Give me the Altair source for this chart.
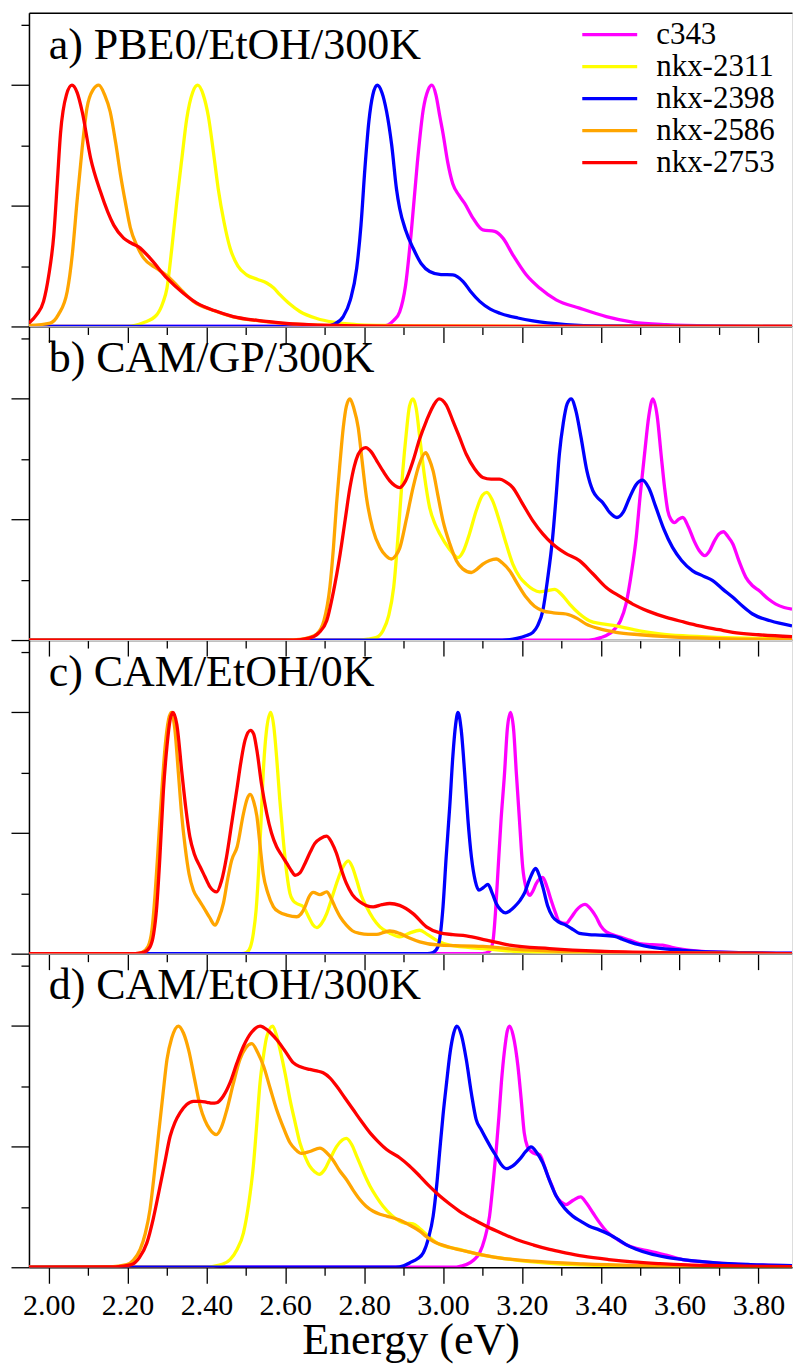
import altair as alt
import pandas as pd

FONT = "'Liberation Serif', 'DejaVu Serif', serif"
SERIES = ["c343", "nkx-2311", "nkx-2398", "nkx-2586", "nkx-2753"]
COLORS = ["#ff00ff", "#ffff00", "#0000ff", "#ffa500", "#ff0000"]
PANEL_TITLES = ["a) PBE0/EtOH/300K", "b) CAM/GP/300K", "c) CAM/EtOH/0K", "d) CAM/EtOH/300K"]
X_TICKS = [2.0, 2.1, 2.2, 2.3, 2.4, 2.5, 2.6, 2.7, 2.8, 2.9, 3.0, 3.1, 3.2, 3.3, 3.4, 3.5, 3.6, 3.7, 3.8]
Y_TICKS = [0.0, 0.25, 0.5, 0.75, 1.0, 1.25]
X_DOMAIN = [1.95, 3.885]
Y_DOMAIN = [0.0, 1.3]
LABEL_POS = [2.0, 1.11]

# ---------- panel a) PBE0/EtOH/300K : [energy eV, normalised intensity] ----------
A_C343 = [[1.95,0],[2.84,0],[2.86,0.006],[2.875,0.025],[2.89,0.06],[2.905,0.17],[2.92,0.40],[2.935,0.68],[2.95,0.90],[2.962,0.98],[2.972,1.0],[2.982,0.96],[2.992,0.87],[3.0,0.80],[3.012,0.68],[3.025,0.59],[3.04,0.545],[3.055,0.51],[3.076,0.449],[3.101,0.40],[3.131,0.394],[3.152,0.366],[3.177,0.297],[3.211,0.214],[3.245,0.159],[3.287,0.11],[3.346,0.076],[3.414,0.041],[3.481,0.018],[3.566,0.007],[3.68,0.002],[3.885,0]]
A_2311 = [[1.95,0],[2.20,0],[2.24,0.015],[2.274,0.048],[2.29,0.10],[2.30,0.159],[2.312,0.32],[2.325,0.52],[2.338,0.70],[2.35,0.86],[2.365,0.97],[2.378,1.0],[2.392,0.96],[2.405,0.87],[2.418,0.72],[2.43,0.57],[2.445,0.43],[2.46,0.325],[2.48,0.25],[2.502,0.214],[2.53,0.195],[2.553,0.18],[2.57,0.16],[2.587,0.131],[2.61,0.095],[2.637,0.062],[2.68,0.033],[2.721,0.018],[2.78,0.008],[2.847,0.004],[2.95,0.001],[3.885,0]]
A_2398 = [[1.95,0],[2.70,0],[2.725,0.01],[2.747,0.041],[2.765,0.11],[2.781,0.24],[2.792,0.42],[2.802,0.656],[2.812,0.85],[2.822,0.96],[2.833,1.0],[2.845,0.97],[2.857,0.89],[2.870,0.75],[2.882,0.57],[2.890,0.49],[2.905,0.40],[2.924,0.325],[2.945,0.26],[2.966,0.228],[2.995,0.215],[3.025,0.214],[3.051,0.186],[3.07,0.145],[3.093,0.104],[3.12,0.072],[3.144,0.055],[3.19,0.035],[3.228,0.023],[3.312,0.008],[3.40,0.002],[3.885,0]]
A_2586 = [[1.95,0.004],[2.004,0.014],[2.025,0.05],[2.047,0.145],[2.06,0.30],[2.072,0.52],[2.085,0.74],[2.097,0.905],[2.112,0.98],[2.127,1.0],[2.142,0.96],[2.156,0.89],[2.17,0.76],[2.182,0.63],[2.195,0.51],[2.207,0.41],[2.225,0.33],[2.241,0.283],[2.274,0.24],[2.30,0.21],[2.316,0.186],[2.34,0.145],[2.367,0.104],[2.42,0.065],[2.468,0.04],[2.53,0.024],[2.594,0.013],[2.72,0.004],[2.85,0.001],[3.885,0]]
A_2753 = [[1.95,0.014],[1.97,0.05],[1.987,0.104],[2.0,0.21],[2.013,0.38],[2.022,0.60],[2.030,0.80],[2.045,0.96],[2.059,1.0],[2.072,0.97],[2.085,0.89],[2.106,0.70],[2.131,0.56],[2.165,0.42],[2.19,0.366],[2.21,0.345],[2.228,0.33],[2.257,0.283],[2.30,0.20],[2.34,0.14],[2.376,0.097],[2.42,0.066],[2.468,0.041],[2.53,0.025],[2.594,0.014],[2.72,0.004],[2.85,0.001],[3.885,0]]

# ---------- panel b) CAM/GP/300K ----------
B_C343 = [[1.95,0],[3.37,0],[3.40,0.01],[3.431,0.038],[3.45,0.08],[3.464,0.149],[3.478,0.28],[3.49,0.425],[3.50,0.60],[3.511,0.77],[3.522,0.93],[3.532,1.0],[3.543,0.93],[3.553,0.77],[3.562,0.63],[3.570,0.536],[3.578,0.50],[3.587,0.487],[3.597,0.50],[3.608,0.508],[3.622,0.47],[3.637,0.41],[3.65,0.37],[3.664,0.35],[3.676,0.37],[3.688,0.41],[3.70,0.44],[3.711,0.449],[3.722,0.43],[3.735,0.398],[3.75,0.33],[3.768,0.26],[3.785,0.225],[3.802,0.204],[3.825,0.17],[3.844,0.149],[3.865,0.135],[3.885,0.128]]
B_2311 = [[1.95,0],[2.78,0],[2.81,0.004],[2.83,0.01],[2.848,0.04],[2.862,0.10],[2.875,0.22],[2.89,0.52],[2.898,0.70],[2.907,0.86],[2.915,0.97],[2.924,1.0],[2.932,0.96],[2.941,0.84],[2.953,0.68],[2.966,0.55],[2.98,0.48],[2.992,0.44],[3.015,0.38],[3.038,0.342],[3.052,0.37],[3.067,0.44],[3.085,0.54],[3.10,0.60],[3.111,0.612],[3.125,0.58],[3.143,0.494],[3.16,0.40],[3.177,0.315],[3.195,0.26],[3.211,0.232],[3.228,0.21],[3.245,0.20],[3.265,0.205],[3.283,0.21],[3.30,0.19],[3.321,0.149],[3.345,0.11],[3.371,0.08],[3.40,0.068],[3.439,0.059],[3.498,0.038],[3.55,0.026],[3.608,0.018],[3.70,0.011],[3.80,0.007],[3.885,0.005]]
B_2398 = [[1.95,0],[3.15,0],[3.19,0.008],[3.21,0.018],[3.228,0.032],[3.24,0.06],[3.253,0.121],[3.265,0.25],[3.278,0.425],[3.287,0.60],[3.295,0.77],[3.305,0.90],[3.315,0.98],[3.325,1.0],[3.337,0.95],[3.35,0.84],[3.365,0.70],[3.38,0.619],[3.392,0.59],[3.405,0.57],[3.422,0.53],[3.441,0.508],[3.457,0.53],[3.473,0.59],[3.49,0.645],[3.506,0.663],[3.522,0.63],[3.54,0.55],[3.56,0.46],[3.582,0.384],[3.605,0.33],[3.633,0.287],[3.66,0.265],[3.684,0.246],[3.71,0.21],[3.735,0.177],[3.76,0.14],[3.785,0.108],[3.83,0.08],[3.885,0.059]]
B_2586 = [[1.95,0],[2.60,0],[2.637,0.003],[2.66,0.01],[2.68,0.025],[2.698,0.08],[2.713,0.218],[2.722,0.38],[2.73,0.564],[2.738,0.72],[2.747,0.88],[2.755,0.97],[2.764,1.0],[2.774,0.96],[2.785,0.88],[2.795,0.74],[2.806,0.59],[2.822,0.46],[2.84,0.384],[2.855,0.35],[2.869,0.336],[2.88,0.35],[2.89,0.38],[2.907,0.50],[2.924,0.632],[2.94,0.73],[2.956,0.777],[2.965,0.75],[2.975,0.70],[2.987,0.60],[3.0,0.494],[3.017,0.40],[3.034,0.329],[3.05,0.295],[3.072,0.28],[3.087,0.295],[3.101,0.315],[3.118,0.33],[3.135,0.336],[3.15,0.32],[3.169,0.287],[3.19,0.23],[3.211,0.177],[3.232,0.14],[3.253,0.121],[3.28,0.113],[3.312,0.108],[3.34,0.09],[3.363,0.066],[3.40,0.045],[3.439,0.032],[3.50,0.022],[3.566,0.014],[3.70,0.006],[3.885,0.002]]
B_2753 = [[1.95,0],[2.62,0],[2.66,0.008],[2.685,0.03],[2.705,0.08],[2.722,0.20],[2.739,0.356],[2.752,0.50],[2.764,0.632],[2.775,0.72],[2.785,0.77],[2.795,0.792],[2.804,0.798],[2.818,0.78],[2.832,0.743],[2.848,0.70],[2.865,0.66],[2.878,0.64],[2.89,0.632],[2.905,0.66],[2.924,0.743],[2.94,0.83],[2.958,0.909],[2.975,0.97],[2.99,1.0],[3.008,0.975],[3.025,0.909],[3.042,0.84],[3.059,0.77],[3.08,0.71],[3.101,0.674],[3.122,0.667],[3.143,0.667],[3.16,0.655],[3.177,0.632],[3.20,0.57],[3.228,0.494],[3.253,0.44],[3.278,0.398],[3.31,0.36],[3.346,0.329],[3.38,0.275],[3.414,0.218],[3.45,0.18],[3.481,0.149],[3.52,0.12],[3.566,0.094],[3.61,0.075],[3.65,0.059],[3.70,0.043],[3.735,0.032],[3.80,0.022],[3.885,0.014]]

# ---------- panel c) CAM/EtOH/0K ----------
C_C343 = [[1.95,0],[3.10,0],[3.118,0.01],[3.127,0.056],[3.133,0.17],[3.139,0.332],[3.147,0.55],[3.156,0.747],[3.163,0.93],[3.171,1.0],[3.179,0.93],[3.186,0.747],[3.194,0.55],[3.202,0.36],[3.211,0.27],[3.220,0.242],[3.228,0.26],[3.236,0.29],[3.245,0.31],[3.253,0.316],[3.263,0.28],[3.274,0.222],[3.285,0.17],[3.295,0.132],[3.312,0.125],[3.325,0.15],[3.338,0.18],[3.35,0.198],[3.36,0.204],[3.372,0.19],[3.388,0.153],[3.40,0.115],[3.414,0.09],[3.447,0.07],[3.475,0.055],[3.498,0.042],[3.53,0.037],[3.557,0.035],[3.58,0.026],[3.608,0.018],[3.70,0.006],[3.885,0.001]]
C_2311 = [[1.95,0],[2.49,0],[2.502,0.005],[2.512,0.03],[2.519,0.084],[2.526,0.18],[2.532,0.332],[2.538,0.53],[2.544,0.747],[2.552,0.92],[2.563,1.0],[2.571,0.94],[2.578,0.815],[2.586,0.64],[2.595,0.47],[2.604,0.33],[2.612,0.249],[2.62,0.22],[2.629,0.208],[2.646,0.194],[2.66,0.15],[2.67,0.12],[2.68,0.108],[2.692,0.125],[2.705,0.166],[2.718,0.23],[2.73,0.291],[2.745,0.355],[2.76,0.385],[2.77,0.36],[2.781,0.305],[2.793,0.24],[2.806,0.194],[2.823,0.145],[2.84,0.111],[2.865,0.085],[2.89,0.07],[2.915,0.085],[2.941,0.097],[2.96,0.08],[2.983,0.056],[3.017,0.035],[3.101,0.021],[3.18,0.01],[3.35,0.004],[3.885,0]]
C_2398 = [[1.95,0],[2.96,0],[2.975,0.005],[2.987,0.028],[2.994,0.09],[3.0,0.194],[3.008,0.40],[3.017,0.608],[3.025,0.82],[3.032,0.95],[3.038,1.0],[3.046,0.93],[3.055,0.747],[3.063,0.56],[3.072,0.401],[3.082,0.30],[3.091,0.263],[3.103,0.275],[3.114,0.287],[3.125,0.25],[3.135,0.208],[3.147,0.18],[3.159,0.169],[3.17,0.178],[3.181,0.194],[3.195,0.22],[3.206,0.249],[3.22,0.31],[3.235,0.353],[3.245,0.32],[3.253,0.277],[3.265,0.20],[3.278,0.153],[3.295,0.13],[3.312,0.118],[3.33,0.10],[3.346,0.084],[3.37,0.079],[3.397,0.077],[3.435,0.072],[3.455,0.06],[3.473,0.049],[3.50,0.036],[3.523,0.028],[3.608,0.014],[3.70,0.006],[3.885,0.002]]
C_2586 = [[1.95,0],[2.22,0],[2.236,0.005],[2.252,0.03],[2.262,0.10],[2.27,0.25],[2.278,0.45],[2.287,0.678],[2.296,0.87],[2.304,0.97],[2.311,1.0],[2.32,0.93],[2.329,0.747],[2.337,0.58],[2.346,0.443],[2.356,0.33],[2.367,0.263],[2.38,0.225],[2.392,0.194],[2.408,0.15],[2.422,0.118],[2.432,0.15],[2.443,0.208],[2.454,0.31],[2.464,0.387],[2.478,0.443],[2.494,0.581],[2.503,0.64],[2.511,0.66],[2.52,0.63],[2.528,0.57],[2.536,0.45],[2.544,0.332],[2.556,0.25],[2.57,0.194],[2.585,0.172],[2.604,0.16],[2.629,0.153],[2.64,0.165],[2.65,0.194],[2.66,0.235],[2.671,0.254],[2.688,0.245],[2.705,0.256],[2.716,0.23],[2.726,0.194],[2.74,0.15],[2.755,0.118],[2.77,0.095],[2.789,0.084],[2.81,0.08],[2.832,0.08],[2.85,0.088],[2.865,0.094],[2.89,0.084],[2.915,0.065],[2.941,0.049],[2.992,0.035],[3.101,0.03],[3.186,0.018],[3.30,0.01],[3.50,0.004],[3.885,0]]
C_2753 = [[1.95,0],[2.22,0],[2.241,0.005],[2.257,0.028],[2.266,0.08],[2.274,0.194],[2.282,0.40],[2.291,0.678],[2.30,0.86],[2.308,0.97],[2.315,1.0],[2.325,0.95],[2.338,0.747],[2.348,0.60],[2.358,0.484],[2.37,0.41],[2.384,0.36],[2.396,0.32],[2.409,0.277],[2.426,0.256],[2.438,0.30],[2.451,0.401],[2.465,0.55],[2.477,0.678],[2.488,0.80],[2.498,0.885],[2.512,0.926],[2.52,0.91],[2.528,0.843],[2.54,0.70],[2.553,0.581],[2.565,0.50],[2.578,0.443],[2.59,0.41],[2.604,0.374],[2.615,0.345],[2.625,0.325],[2.637,0.335],[2.65,0.374],[2.663,0.42],[2.675,0.457],[2.69,0.478],[2.705,0.487],[2.718,0.46],[2.73,0.415],[2.742,0.35],[2.755,0.291],[2.77,0.245],[2.789,0.215],[2.805,0.20],[2.823,0.194],[2.845,0.203],[2.865,0.208],[2.89,0.20],[2.924,0.166],[2.958,0.111],[2.992,0.086],[3.025,0.079],[3.059,0.074],[3.11,0.056],[3.169,0.035],[3.27,0.021],[3.397,0.01],[3.55,0.004],[3.70,0.002],[3.885,0]]

# ---------- panel d) CAM/EtOH/300K ----------
D_C343 = [[1.95,0],[3.03,0],[3.045,0.005],[3.059,0.011],[3.078,0.03],[3.093,0.06],[3.106,0.12],[3.118,0.212],[3.127,0.35],[3.135,0.488],[3.142,0.63],[3.148,0.765],[3.156,0.90],[3.163,0.98],[3.169,1.0],[3.178,0.96],[3.19,0.833],[3.198,0.70],[3.206,0.557],[3.214,0.50],[3.223,0.481],[3.235,0.47],[3.245,0.467],[3.256,0.425],[3.266,0.378],[3.277,0.335],[3.287,0.295],[3.30,0.27],[3.312,0.26],[3.33,0.278],[3.349,0.292],[3.364,0.265],[3.38,0.226],[3.397,0.185],[3.414,0.15],[3.44,0.118],[3.464,0.094],[3.49,0.078],[3.523,0.067],[3.566,0.05],[3.608,0.032],[3.65,0.024],[3.692,0.018],[3.78,0.01],[3.885,0.006]]
D_2311 = [[1.95,0],[2.40,0],[2.418,0.004],[2.44,0.012],[2.46,0.032],[2.478,0.075],[2.494,0.143],[2.507,0.26],[2.519,0.419],[2.528,0.60],[2.536,0.765],[2.545,0.88],[2.553,0.956],[2.568,1.0],[2.578,0.96],[2.587,0.90],[2.60,0.80],[2.612,0.695],[2.625,0.60],[2.637,0.516],[2.65,0.46],[2.662,0.419],[2.675,0.395],[2.686,0.385],[2.70,0.405],[2.713,0.447],[2.73,0.50],[2.745,0.528],[2.755,0.534],[2.768,0.51],[2.781,0.461],[2.798,0.395],[2.815,0.336],[2.832,0.29],[2.848,0.253],[2.87,0.215],[2.89,0.191],[2.905,0.183],[2.924,0.18],[2.94,0.162],[2.958,0.136],[2.975,0.112],[2.992,0.094],[3.042,0.074],[3.10,0.05],[3.20,0.027],[3.35,0.01],[3.55,0.004],[3.885,0.001]]
D_2398 = [[1.95,0],[2.88,0],[2.90,0.006],[2.916,0.019],[2.935,0.035],[2.95,0.06],[2.963,0.12],[2.975,0.212],[2.984,0.34],[2.992,0.488],[3.0,0.63],[3.009,0.765],[3.018,0.89],[3.027,0.97],[3.035,1.0],[3.047,0.96],[3.059,0.861],[3.072,0.72],[3.084,0.613],[3.097,0.57],[3.11,0.53],[3.122,0.495],[3.135,0.46],[3.148,0.425],[3.16,0.409],[3.177,0.42],[3.194,0.447],[3.21,0.48],[3.223,0.499],[3.238,0.475],[3.253,0.433],[3.27,0.36],[3.287,0.295],[3.308,0.245],[3.329,0.212],[3.35,0.19],[3.371,0.17],[3.396,0.155],[3.422,0.136],[3.444,0.115],[3.464,0.094],[3.49,0.075],[3.523,0.057],[3.565,0.042],[3.608,0.032],[3.65,0.024],[3.692,0.018],[3.78,0.011],[3.885,0.007]]
D_2586 = [[1.95,0],[2.156,0.002],[2.198,0.011],[2.215,0.03],[2.232,0.074],[2.245,0.14],[2.257,0.24],[2.268,0.39],[2.279,0.557],[2.29,0.72],[2.30,0.861],[2.312,0.95],[2.329,1.0],[2.342,0.97],[2.355,0.90],[2.37,0.78],[2.384,0.668],[2.396,0.61],[2.409,0.571],[2.425,0.55],[2.438,0.58],[2.452,0.654],[2.468,0.76],[2.485,0.861],[2.50,0.91],[2.515,0.927],[2.53,0.89],[2.545,0.833],[2.562,0.74],[2.578,0.654],[2.595,0.58],[2.612,0.516],[2.625,0.49],[2.641,0.472],[2.662,0.48],[2.688,0.494],[2.705,0.475],[2.72,0.447],[2.738,0.40],[2.755,0.364],[2.772,0.32],[2.789,0.281],[2.805,0.253],[2.823,0.232],[2.84,0.22],[2.857,0.212],[2.89,0.196],[2.915,0.175],[2.941,0.15],[2.958,0.127],[2.975,0.108],[3.017,0.083],[3.076,0.06],[3.143,0.039],[3.228,0.025],[3.355,0.014],[3.50,0.007],[3.70,0.003],[3.885,0.001]]
D_2753 = [[1.95,0],[2.17,0.002],[2.21,0.011],[2.23,0.04],[2.249,0.101],[2.265,0.20],[2.279,0.309],[2.294,0.43],[2.308,0.543],[2.32,0.60],[2.333,0.64],[2.35,0.675],[2.367,0.688],[2.385,0.688],[2.401,0.684],[2.415,0.68],[2.426,0.682],[2.443,0.71],[2.46,0.765],[2.477,0.845],[2.494,0.916],[2.515,0.975],[2.536,1.0],[2.557,0.98],[2.578,0.944],[2.60,0.895],[2.62,0.848],[2.64,0.83],[2.662,0.82],[2.68,0.814],[2.696,0.806],[2.713,0.785],[2.73,0.751],[2.75,0.705],[2.772,0.654],[2.793,0.605],[2.815,0.557],[2.836,0.52],[2.857,0.488],[2.89,0.454],[2.915,0.42],[2.941,0.378],[2.966,0.335],[2.992,0.295],[3.017,0.262],[3.042,0.232],[3.075,0.20],[3.11,0.17],[3.15,0.14],[3.186,0.115],[3.23,0.092],[3.27,0.074],[3.31,0.06],[3.355,0.046],[3.42,0.032],[3.481,0.022],[3.55,0.015],[3.62,0.01],[3.70,0.007],[3.80,0.004],[3.885,0.003]]

PANELS = [
    [A_C343, A_2311, A_2398, A_2586, A_2753],
    [B_C343, B_2311, B_2398, B_2586, B_2753],
    [C_C343, C_2311, C_2398, C_2586, C_2753],
    [D_C343, D_2311, D_2398, D_2586, D_2753],
]

W, H = 764, 314


def panel_frame(curves):
    rows = []
    for k, (name, pts) in enumerate(zip(SERIES, curves)):
        for e, v in pts:
            rows.append({"E": e, "I": v, "series": name, "k": k})
    return pd.DataFrame(rows)


def xscale():
    return alt.Scale(domain=X_DOMAIN, nice=False, zero=False)


def yscale():
    return alt.Scale(domain=Y_DOMAIN, nice=False, zero=False)


def x_axis(bottom):
    kw = dict(
        values=X_TICKS, grid=False, domainColor="black", domainWidth=1.5,
        tickColor="black", tickWidth=1.3,
        tickSize={"condition": {"test": "round(datum.value*10)%2==0", "value": 16}, "value": 8},
        labels=bottom, labelOverlap=False, labelFlush=False,
        labelExpr="round(datum.value*10)%2==0 ? format(datum.value, '.2f') : ''",
        labelFont=FONT, labelFontSize=30, labelColor="black", labelPadding=7.5,
        title="Energy (eV)" if bottom else None,
        titleFont=FONT, titleFontSize=44, titleFontWeight="normal", titleColor="black", titlePadding=-2,
    )
    return alt.Axis(**kw)


Y_AXIS = alt.Axis(
    values=Y_TICKS, grid=False, labels=False, title=None,
    domainColor="black", domainWidth=1.5, tickColor="black", tickWidth=1.3,
    tickSize={"condition": {"test": "round(datum.value*4)%2==0", "value": 18}, "value": 8},
)

TOP_AXIS = alt.Axis(orient="top", ticks=False, labels=False, title=None, grid=False,
                    domainColor="black", domainWidth=1.5)

LEGEND = alt.Legend(
    orient="none", legendX=552, legendY=7, title=None,
    symbolType="stroke", symbolSize=3025, symbolStrokeWidth=3.3, symbolOpacity=1,
    labelFont=FONT, labelFontSize=31, labelColor="black", labelOffset=17,
    clipHeight=29.8, rowPadding=0, padding=0, labelLimit=400,
)


def panel(p):
    df = panel_frame(PANELS[p])
    lines = alt.Chart(df).mark_line(strokeWidth=3.3, interpolate="monotone", clip=True).encode(
        x=alt.X("E:Q", scale=xscale(), axis=x_axis(p == 3)),
        y=alt.Y("I:Q", scale=yscale(), axis=Y_AXIS),
        color=alt.Color("series:N", scale=alt.Scale(domain=SERIES, range=COLORS),
                        legend=LEGEND if p == 0 else None),
        detail="k:O",
    )
    if p == 0:
        xenc = alt.XDatum(LABEL_POS[0], type="quantitative", scale=xscale(), axis=TOP_AXIS)
    else:
        xenc = alt.XDatum(LABEL_POS[0], type="quantitative", scale=xscale())
    label = alt.Chart(pd.DataFrame({"label": [PANEL_TITLES[p]]})).mark_text(
        align="left", baseline="alphabetic", font=FONT, fontSize=44, color="black"
    ).encode(
        x=xenc,
        y=alt.YDatum(LABEL_POS[1], type="quantitative", scale=yscale()),
        text="label:N",
    )
    layer = alt.layer(lines, label).properties(width=W, height=H)
    if p == 0:
        layer = layer.resolve_axis(x="independent")
    return layer


chart = alt.vconcat(*[panel(p) for p in range(4)], spacing=0, bounds="flush").resolve_scale(
    color="independent"
).resolve_legend(color="independent").properties(
    padding={"left": 9, "top": 11, "right": 0, "bottom": 0}
).configure_view(stroke=None).configure(font=FONT, background="white")

chart.save("out.html", embed_options={"renderer": "svg", "actions": False})
